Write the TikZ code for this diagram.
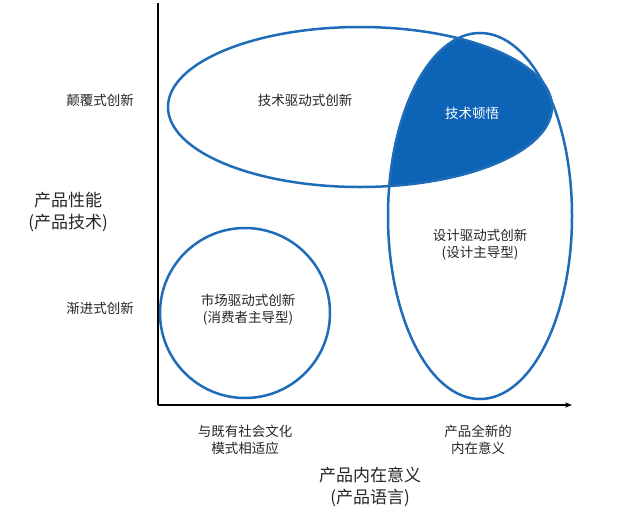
\documentclass[tikz,border=0pt]{standalone}
\usepackage{fontspec}
\setmainfont{Noto Sans CJK SC}
\usetikzlibrary{arrows.meta}
\definecolor{bl}{HTML}{1F6CB8}
\definecolor{fillbl}{HTML}{0D63B5}
\begin{document}
\begin{tikzpicture}[x=1pt,y=-1pt,
  lab/.style={align=center,font=\fontsize{13.5}{17}\selectfont,text=black!85},
  big/.style={align=center,font=\fontsize{17}{22}\selectfont,text=black!85},
  ring/.style={draw=bl,line width=2.5pt}]
\useasboundingbox (0,0) rectangle (640,520);
\fill[white] (0,0) rectangle (640,520);
\coordinate (o) at (158,405);
\coordinate (ytop) at (158,3);
\coordinate (xend) at (572,405);
\draw[line width=1.3pt] (ytop) -- (o);
\draw[line width=1.3pt,-{Stealth[length=7pt]}] (o) -- (xend);
\begin{scope}
\clip (480,216) ellipse [x radius=92, y radius=183];
\fill[fillbl] (360,107) ellipse [x radius=192, y radius=80];
\end{scope}
\draw[ring] (360,107) ellipse [x radius=192, y radius=80];
\draw[ring] (480,216) ellipse [x radius=92, y radius=183];
\draw[ring] (245,313) circle [radius=85];
\node[lab] (a) at (100,100) {颠覆式创新};
\node[lab] (b) at (100,308) {渐进式创新};
\node[big] (c) at (68,212) {产品性能\\(产品技术)};
\node[lab] (d) at (305,100) {技术驱动式创新};
\node[lab,text=white] (e) at (472,113) {技术顿悟};
\node[lab] (f) at (480,245) {设计驱动式创新\\(设计主导型)};
\node[lab] (g) at (248,310) {市场驱动式创新\\(消费者主导型)};
\node[lab] (h) at (245,440) {与既有社会文化\\模式相适应};
\node[lab] (i) at (478,440) {产品全新的\\内在意义};
\node[big] (j) at (370,487) {产品内在意义\\(产品语言)};
\end{tikzpicture}
\end{document}
